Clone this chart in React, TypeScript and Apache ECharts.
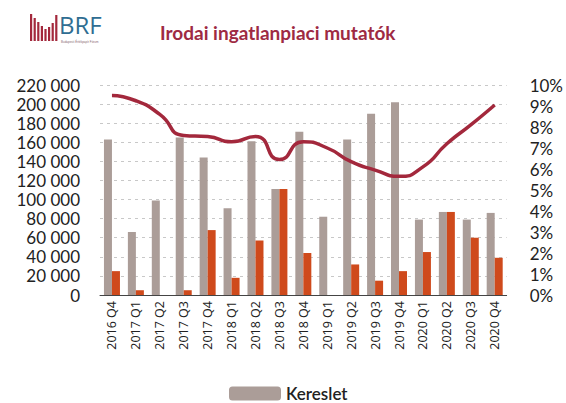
import React, { useEffect, useRef } from "react";
import * as echarts from "echarts";

const categories = [
  "2016 Q4", "2017 Q1", "2017 Q2", "2017 Q3", "2017 Q4", "2018 Q1", "2018 Q2", "2018 Q3", "2018 Q4",
  "2019 Q1", "2019 Q2", "2019 Q3", "2019 Q4", "2020 Q1", "2020 Q2", "2020 Q3", "2020 Q4",
];
const kereslet = [163000, 66000, 99000, 165000, 144000, 91000, 161000, 111000, 171000, 82000, 163000, 190000, 202000, 79000, 87000, 79000, 86000];
const orangeValues = [25000, 5000, 0, 5000, 68000, 18000, 57000, 111000, 44000, 0, 32000, 15000, 25000, 45000, 87000, 60000, 39000];
const rate = [9.5, 9.25, 8.6, 7.6, 7.55, 7.3, 7.55, 6.45, 7.3, 7.0, 6.35, 5.95, 5.65, 6.1, 7.2, 8.1, 9.05];

const logoBars = [27, 23, 19, 15, 12, 14, 18, 26];

export default function App() {
  const ref = useRef<HTMLDivElement>(null);
  useEffect(() => {
    const chart = echarts.init(ref.current!, null, { renderer: "svg" });
    const font = "Lato, 'Open Sans', sans-serif";
    const logoGraphics: any[] = logoBars.map((h, i) => ({
      type: "rect",
      shape: { x: 30 + i * 3.6, y: 41 - h, width: 2.2, height: h },
      style: { fill: "#a3283c" },
    }));
    chart.setOption({
      animation: false,
      backgroundColor: "#ffffff",
      textStyle: { fontFamily: font },
      title: {
        text: "Irodai ingatlanpiaci mutatók",
        left: 155,
        top: 18,
        textStyle: { color: "#9e2a43", fontSize: 19, fontWeight: "bold", fontFamily: font },
      },
      graphic: [
        ...logoGraphics,
        {
          type: "text",
          left: 59,
          top: 12,
          style: { text: "BRF", fill: "#2f6d92", font: "24px 'Open Sans', sans-serif" },
        },
        {
          type: "text",
          left: 61,
          top: 40,
          style: { text: "Budapesti Értékpapír Fórum", fill: "#8a6a72", font: "3px sans-serif" },
        },
      ],
      legend: {
        data: ["Kereslet"],
        left: 229,
        top: 385,
        padding: 0,
        itemWidth: 52,
        itemHeight: 14,
        itemGap: 6,
        textStyle: { fontSize: 17, lineHeight: 16, fontWeight: 600, color: "#222", fontFamily: font },
      },
      grid: { left: 100, right: 59, top: 85, bottom: 108 },
      xAxis: {
        type: "category",
        data: categories,
        axisTick: { show: false },
        axisLine: { lineStyle: { color: "#444", width: 1 } },
        axisLabel: { rotate: 90, fontSize: 12.5, color: "#222", margin: 6, fontFamily: "'Open Sans', sans-serif" },
      },
      yAxis: [
        {
          type: "value",
          min: 0,
          max: 220000,
          interval: 20000,
          axisLabel: {
            fontSize: 17,
            lineHeight: 17,
            color: "#222",
            margin: 20,
            formatter: (v: number) => (v >= 1000 ? Math.floor(v / 1000) + " 000" : String(v)),
          },
          splitLine: { lineStyle: { color: "#c8c8c8", type: [3, 4] } },
          axisLine: { show: false },
          axisTick: { show: false },
        },
        {
          type: "value",
          min: 0,
          max: 10,
          interval: 1,
          axisLabel: { fontSize: 17, lineHeight: 17, color: "#222", margin: 23, formatter: "{value}%" },
          splitLine: { show: false },
          axisLine: { show: false },
          axisTick: { show: false },
        },
      ],
      series: [
        {
          name: "Kereslet",
          type: "bar",
          data: kereslet,
          barWidth: 8,
          barGap: "0%",
          itemStyle: { color: "#ab9d98" },
        },
        {
          name: "Új átadás",
          type: "bar",
          data: orangeValues,
          barWidth: 8,
          barGap: "0%",
          itemStyle: { color: "#cf4a1c" },
        },
        {
          name: "Üresedési ráta",
          type: "line",
          yAxisIndex: 1,
          data: rate,
          smooth: 0.6,
          symbol: "none",
          lineStyle: { color: "#a3283c", width: 3.5 },
        },
      ],
    });
    return () => chart.dispose();
  }, []);
  return <div ref={ref} style={{ position: "fixed", left: 0, top: 0, width: 566, height: 403 }} />;
}
